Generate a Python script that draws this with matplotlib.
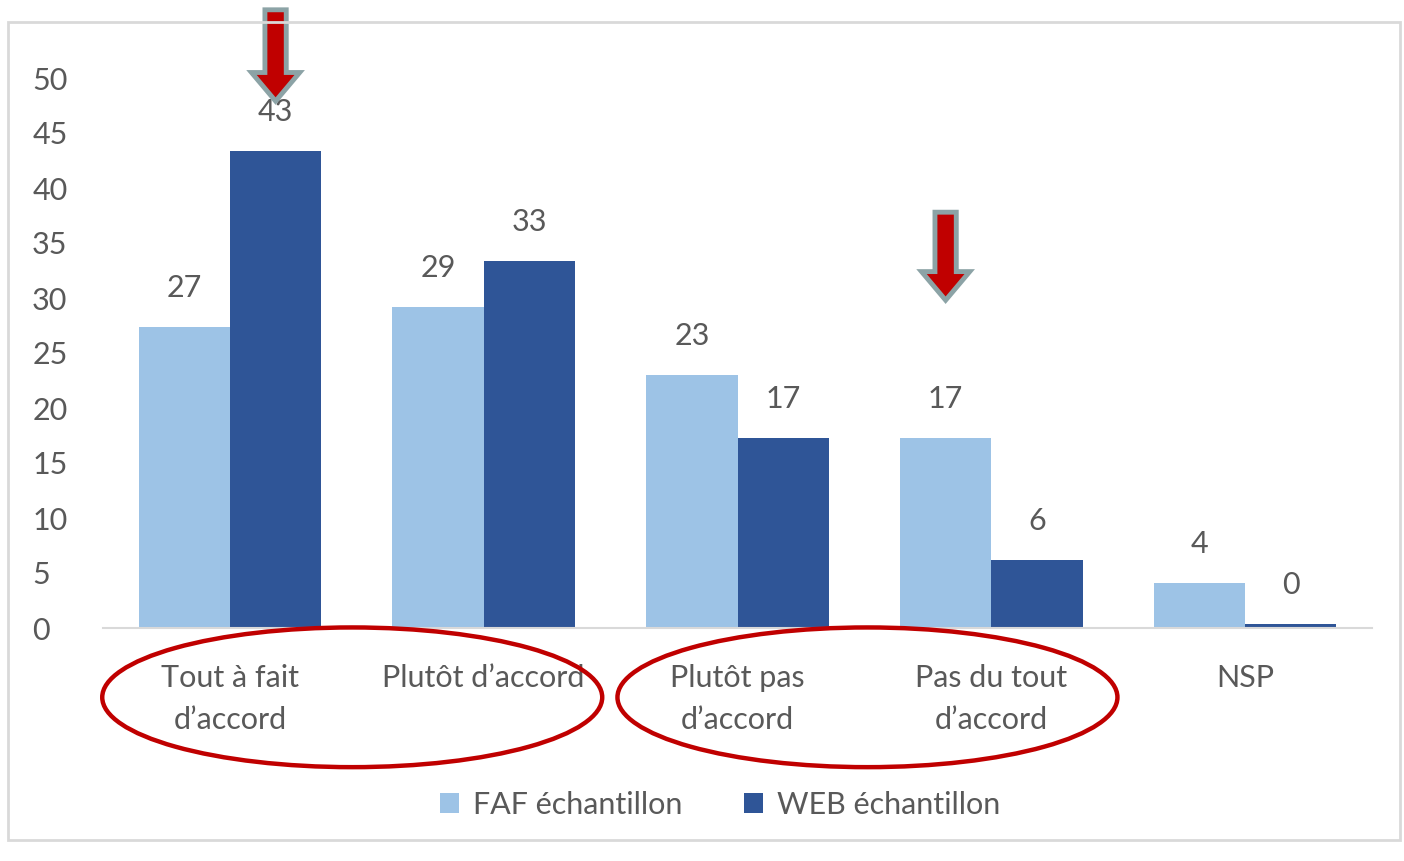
import numpy as np
import matplotlib
matplotlib.use("Agg")
import matplotlib.pyplot as plt
from matplotlib.patches import Ellipse, Polygon, Rectangle

plt.rcParams['font.family'] = ['Lato', 'DejaVu Sans']

# data
categories = ["Tout à fait\nd’accord", "Plutôt d’accord", "Plutôt pas\nd’accord",
              "Pas du tout\nd’accord", "NSP"]
faf = [27.4, 29.2, 23.0, 17.3, 4.1]
web = [43.4, 33.4, 17.3, 6.2, 0.4]
series_names = ["FAF échantillon", "WEB échantillon"]
yticks = [0, 5, 10, 15, 20, 25, 30, 35, 40, 45, 50]

light = "#9DC3E6"
dark = "#2F5597"
txt = "#595959"
red = "#C00000"
arrow_edge = "#8CA3A6"
fs = 22

W, H = 1404, 861
fig = plt.figure(figsize=(W / 100, H / 100), dpi=100)
ax = fig.add_axes([103 / W, 1 - 628 / H, (1372 - 103) / W, (628 - 78) / H])

x = np.arange(len(categories))
bw = 0.36
b1 = ax.bar(x - bw / 2, faf, bw, color=light, label=series_names[0], zorder=2)
b2 = ax.bar(x + bw / 2, web, bw, color=dark, label=series_names[1], zorder=2)

for bars in (b1, b2):
    for r in bars:
        ax.annotate(f"{r.get_height():.0f}", (r.get_x() + r.get_width() / 2, r.get_height()),
                    xytext=(0, 39), textcoords="offset pixels", ha="center", va="center",
                    fontsize=fs, color=txt)

ax.set_xlim(-0.5, len(categories) - 0.5)
ax.set_ylim(0, 50)
ax.set_yticks(yticks)
ax.set_xticks(x)
ax.set_xticklabels(categories, fontsize=fs, color=txt, linespacing=1.6, va="top")
for lab in ax.get_yticklabels():
    lab.set_horizontalalignment("left")
ax.tick_params(axis="y", length=0, pad=51, labelsize=fs, labelcolor=txt)
ax.tick_params(axis="x", length=0, pad=26)
for s in ("top", "right", "left"):
    ax.spines[s].set_visible(False)
ax.spines["bottom"].set_color("#D9D9D9")
ax.spines["bottom"].set_linewidth(1.5)

leg = fig.legend(loc="center", bbox_to_anchor=(720 / W, 1 - 805 / H), ncol=2, frameon=False,
                 fontsize=fs, handlelength=0.65, handleheight=0.65, columnspacing=2.0,
                 handletextpad=0.45)
for t in leg.get_texts():
    t.set_color(txt)

# red ellipses around category pairs
for cx in (0.482, 2.512):
    ax.add_patch(Ellipse((cx, -6.3), 1.97, 12.7, fill=False, edgecolor=red, lw=3.2,
                         clip_on=False, zorder=5))

# down arrows
def down_arrow(xc, y_top, y_tip):
    sw, hw = 0.042, 0.095
    y_head = y_tip + 2.6
    pts = [(xc - sw, y_top), (xc + sw, y_top), (xc + sw, y_head), (xc + hw, y_head),
           (xc, y_tip), (xc - hw, y_head), (xc - sw, y_head)]
    ax.add_patch(Polygon(pts, closed=True, facecolor=red, edgecolor=arrow_edge, lw=3.5,
                         clip_on=False, zorder=6, joinstyle="miter"))

down_arrow(0 + bw / 2, 56.2, 47.9)
down_arrow(3 - bw / 2, 37.8, 29.8)

# chart border
fig.add_artist(Rectangle((8 / W, 1 - 840 / H), (1400 - 8) / W, (840 - 22) / H,
                         transform=fig.transFigure, fill=False, edgecolor="#D9D9D9", lw=2))

fig.savefig("out.png", dpi=100)
